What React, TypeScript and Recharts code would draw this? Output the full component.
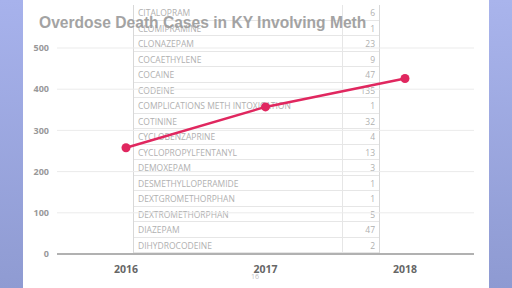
import { LineChart, Line, XAxis, YAxis, CartesianGrid } from "recharts";

const years = ["2016", "2017", "2018"];
const methDeaths = [258, 357, 426];
const yTicks = [0, 100, 200, 300, 400, 500];

const drugNames = [
  "CITALOPRAM",
  "CLOMIPRAMINE",
  "CLONAZEPAM",
  "COCAETHYLENE",
  "COCAINE",
  "CODEINE",
  "COMPLICATIONS METH INTOXICATION",
  "COTININE",
  "CYCLOBENZAPRINE",
  "CYCLOPROPYLFENTANYL",
  "DEMOXEPAM",
  "DESMETHYLLOPERAMIDE",
  "DEXTGROMETHORPHAN",
  "DEXTROMETHORPHAN",
  "DIAZEPAM",
  "DIHYDROCODEINE",
];
const drugCounts = [6, 1, 23, 9, 47, 135, 1, 32, 4, 13, 3, 1, 1, 5, 47, 2];

const chartData = years.map((year, i) => ({ year, value: methDeaths[i] }));

function DrugTable() {
  return (
    <div
      style={{
        position: "absolute",
        left: 133,
        top: 5,
        width: 245,
        borderLeft: "1px solid #d8d8d8",
        borderRight: "1px solid #d8d8d8",
        fontFamily: "'Open Sans', sans-serif",
        fontSize: 8.5,
        color: "#b0b0b0",
      }}
    >
      {drugNames.map((name, i) => (
        <div
          key={name}
          style={{
            display: "flex",
            height: 15.5,
            lineHeight: "15.5px",
            borderBottom: "1px solid #e6e6e6",
            boxSizing: "border-box",
          }}
        >
          <div style={{ width: 204, paddingLeft: 4, whiteSpace: "nowrap", overflow: "hidden" }}>{name}</div>
          <div style={{ flex: 1, textAlign: "right", paddingRight: 4, borderLeft: "1px solid #e6e6e6" }}>
            {drugCounts[i]}
          </div>
        </div>
      ))}
    </div>
  );
}

export default function App() {
  return (
    <div
      style={{
        position: "fixed",
        left: 0,
        top: 0,
        width: 512,
        height: 288,
        background: "#ffffff",
        overflow: "hidden",
      }}
    >
      <div
        style={{
          position: "absolute",
          left: 0,
          top: 0,
          width: 23,
          height: 288,
          background: "linear-gradient(#a7b2ec, #8f9bd2)",
        }}
      />
      <div
        style={{
          position: "absolute",
          left: 489,
          top: 0,
          width: 23,
          height: 288,
          background: "linear-gradient(#a9b4ec, #8e9ad2)",
        }}
      />
      <DrugTable />
      <div
        style={{
          position: "absolute",
          left: 39,
          top: 14,
          fontFamily: "'Liberation Sans', Arial, sans-serif",
          fontWeight: 700,
          fontSize: 15.6,
          color: "#9a9a9a",
          whiteSpace: "nowrap",
          opacity: 0.9,
        }}
      >
        Overdose Death Cases in KY Involving Meth
      </div>
      <div style={{ position: "absolute", left: 0, top: 0 }}>
        <LineChart
          width={512}
          height={288}
          data={chartData}
          margin={{ top: 48, right: 38, bottom: 10, left: 25 }}
        >
          <CartesianGrid vertical={false} stroke="#ebebeb" />
          <XAxis
            dataKey="year"
            height={24}
            padding={{ left: 69, right: 69 }}
            tickLine={false}
            axisLine={{ stroke: "#9a9a9a", strokeWidth: 1.5 }}
            tick={{ fill: "#666", fontSize: 10.5, fontWeight: 700, fontFamily: "'Open Sans', sans-serif" }}
            tickMargin={6}
          />
          <YAxis
            width={32}
            domain={[0, 500]}
            ticks={yTicks}
            tickLine={false}
            axisLine={false}
            tick={{ fill: "#999", fontSize: 9, fontWeight: 700, fontFamily: "'Open Sans', sans-serif" }}
          />
          <Line
            type="linear"
            dataKey="value"
            stroke="#e0275f"
            strokeWidth={2.5}
            dot={{ fill: "#e0275f", stroke: "#e0275f", strokeWidth: 0, r: 4.5 }}
            isAnimationActive={false}
          />
        </LineChart>
      </div>
      <div
        style={{
          position: "absolute",
          left: 251,
          top: 272,
          fontFamily: "'Open Sans', sans-serif",
          fontSize: 7,
          color: "#c0c0c0",
        }}
      >
        16
      </div>
    </div>
  );
}
